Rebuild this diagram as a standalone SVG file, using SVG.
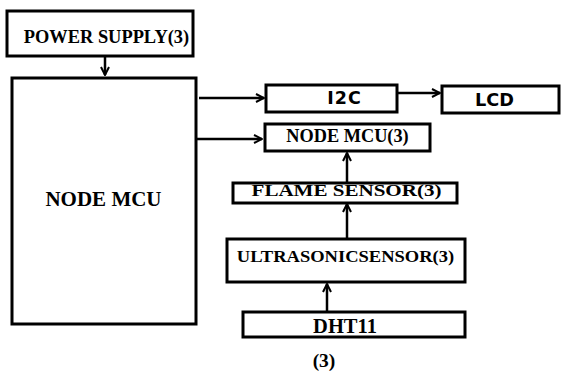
<svg xmlns="http://www.w3.org/2000/svg" width="561" height="372" viewBox="0 0 561 372">
<defs>
<style>
.box{fill:#fff;stroke:#000;stroke-width:3}
.t{font-family:"Liberation Serif","Times New Roman",serif;font-weight:bold;fill:#000;text-anchor:middle}
.l{text-anchor:start}
.s{font-family:"DejaVu Sans",Verdana,sans-serif;font-weight:bold;fill:#000;text-anchor:middle}
.c{stroke:#000;stroke-width:2.5;fill:none;marker-end:url(#ah)}
</style>
<marker id="ah" viewBox="0 0 10 10" refX="9" refY="5" markerWidth="4" markerHeight="4" orient="auto" markerUnits="strokeWidth">
<path d="M1,1 L9,5 L1,9" fill="none" stroke="#000" stroke-width="2"/>
</marker>
</defs>
<rect width="561" height="372" fill="#fff"/>
<g id="connectors">
<line class="c" x1="105" y1="57" x2="105" y2="75"/>
<line class="c" x1="199" y1="98" x2="264" y2="98"/>
<line class="c" x1="196" y1="139" x2="262" y2="139"/>
<line class="c" x1="398" y1="93" x2="440" y2="93"/>
<line class="c" x1="347" y1="183" x2="347" y2="153"/>
<line class="c" x1="347" y1="238" x2="347" y2="204"/>
<line class="c" x1="327" y1="311" x2="327" y2="284"/>
</g>
<g id="power"><rect class="box" x="7" y="11" width="186" height="45"/><text class="t" x="106.5" y="43" font-size="18.4">POWER SUPPLY(3)</text></g>
<g id="nodemcu"><rect class="box" x="12" y="78" width="184" height="246"/><text class="t" x="103.5" y="206" font-size="21">NODE MCU</text></g>
<g id="i2c"><rect class="box" x="266" y="85" width="131" height="27"/><text class="s" x="344.5" y="104" font-size="17.5" letter-spacing="1">I2C</text></g>
<g id="lcd"><rect class="box" x="442" y="86" width="117" height="27"/><text class="s" x="494.5" y="106" font-size="17.7">LCD</text></g>
<g id="nodemcu3"><rect class="box" x="265" y="124" width="165" height="27"/><text class="t" x="347.5" y="142" font-size="18.3">NODE MCU(3)</text></g>
<g id="flame"><rect class="box" x="233" y="183" width="224" height="20"/><text class="t" transform="translate(346.5 196) scale(1.3 1)" x="0" y="0" font-size="16.2">FLAME SENSOR(3)</text></g>
<g id="ultra"><rect class="box" x="227" y="239" width="238" height="43"/><text class="t" transform="translate(345.5 262) scale(1.09 1)" x="0" y="0" font-size="17">ULTRASONICSENSOR(3)</text></g>
<g id="dht11"><rect class="box" x="243" y="312" width="222" height="25"/><text class="t" x="345" y="333" font-size="20.5">DHT11</text></g>
<text class="t" x="324" y="367" font-size="19.5">(3)</text>
</svg>
